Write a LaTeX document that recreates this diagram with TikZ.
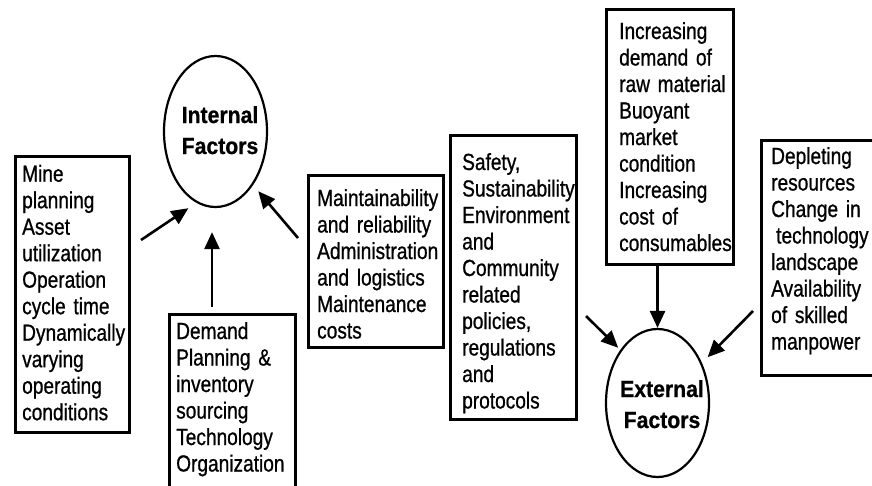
\documentclass[tikz,border=0pt]{standalone}
\usepackage{fontspec}
\setmainfont{Liberation Sans}
\newfontfamily\regf{Liberation Sans}[FakeStretch=0.82, FakeBold=0.8]
\newfontfamily\boldf{Liberation Sans}[FakeStretch=0.91, BoldFeatures={FakeBold=0.8}]
\usetikzlibrary{arrows.meta,shapes.geometric,calc}
\tikzset{
  boxnode/.style={draw, line width=2.8pt, inner sep=0pt, anchor=north west},
  txt/.style={font=\regf\fontsize{23.3}{26.5}\selectfont, align=left, text width=160pt, inner sep=0pt, anchor=base west},
  ell/.style={ellipse, draw, line width=2.2pt, inner sep=0pt},
  lbl/.style={font=\boldf\bfseries\fontsize{23.3}{31}\selectfont, align=center, text width=110pt, inner sep=0pt, anchor=base},
  arr/.style={line width=2.6pt, -{Triangle[length=17pt,width=15pt]}}
}
\begin{document}
\begin{tikzpicture}[x=1pt,y=-1pt]
\path[use as bounding box] (0,0) rectangle (872,485);
\clip (0,0) rectangle (872,485);
\fill[white] (0,0) rectangle (872,485);
% boxes
\node[boxnode, minimum width=114pt, minimum height=276pt] (mine) at (14,155) {};
\node[boxnode, minimum width=126pt, minimum height=200pt] (demand) at (168,313) {};
\node[boxnode, minimum width=135pt, minimum height=172pt] (maint) at (307,174) {};
\node[boxnode, minimum width=126pt, minimum height=284pt] (safety) at (449,134) {};
\node[boxnode, minimum width=127pt, minimum height=255pt] (inc) at (605,8) {};
\node[boxnode, minimum width=140pt, minimum height=235pt] (depl) at (760,139) {};
% texts
\node[txt] (minet) at (22,181.7) {Mine\\planning\\Asset\\utilization\\Operation\\cycle time\\Dynamically\\varying\\operating\\conditions};
\node[txt] (demandt) at (176,339) {Demand\\Planning \&\\inventory\\sourcing\\Technology\\Organization};
\node[txt] (maintt) at (317,206) {Maintainability\\and reliability\\Administration\\and logistics\\Maintenance\\costs};
\node[txt] (safetyt) at (462,170) {Safety,\\Sustainability,\\Environment\\and\\Community\\related\\policies,\\regulations\\and\\protocols};
\node[txt] (inct) at (619,39) {Increasing\\demand of\\raw material\\Buoyant\\market\\condition\\Increasing\\cost of\\consumables};
\node[txt] (deplt) at (771,164) {Depleting\\resources\\Change in\\\hspace*{5pt}technology\\landscape\\Availability\\of skilled\\manpower};
% ellipses
\node[ell, minimum width=103pt, minimum height=151pt] (int) at (215.5,131.5) {};
\node[ell, minimum width=103pt, minimum height=148pt] (ext) at (657.5,403) {};
\node[lbl] (intl) at (220,123) {Internal\\Factors};
\node[lbl] (extl) at (662,397) {External\\Factors};
% arrow start points
\coordinate (c1) at (141,240);
\coordinate (c2) at (212,307);
\coordinate (c3) at (298,238);
\coordinate (c5) at (586,316);
\coordinate (c6) at (753,311);
\draw[arr, shorten >=9.6pt] (c1) -- (int.255);
\draw[arr, shorten >=24pt] (c2) -- (c2 |- int.south);
\draw[arr, shorten >=8pt] (c3) -- (int.305.6);
\draw[arr] (inc.south -| ext.north) -- (ext.north);
\draw[arr, shorten >=3pt] (c5) -- (ext.125.5);
\draw[arr, shorten >=8pt] (c6) -- (ext.42.2);
\end{tikzpicture}
\end{document}
